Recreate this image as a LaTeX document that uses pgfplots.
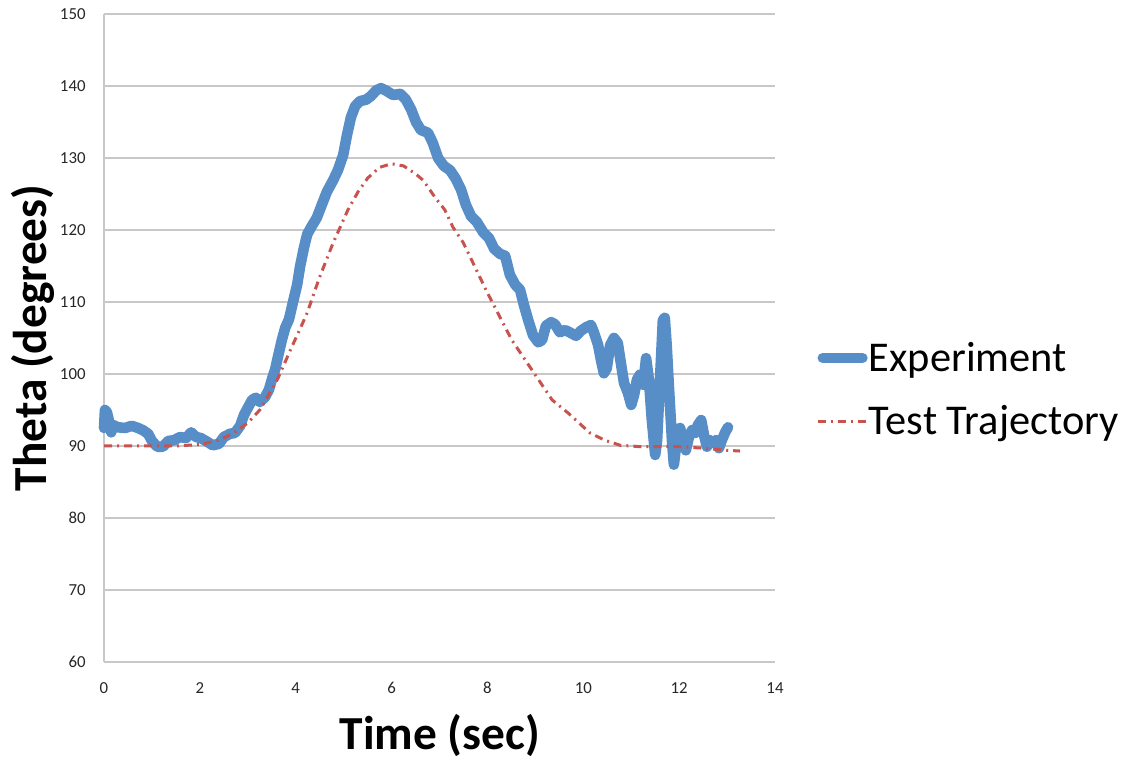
\documentclass[border=0pt]{standalone}
\usepackage{pgfplots}
\pgfplotsset{compat=1.18}
\usepackage{fontspec}
\setmainfont{Carlito}
\definecolor{expblue}{RGB}{88,142,200}
\definecolor{trajred}{RGB}{200,82,78}
\definecolor{gridgray}{RGB}{200,200,200}
\begin{document}
\begin{tikzpicture}
\begin{axis}[
  scale only axis,
  width=335.5pt, height=324pt,
  xmin=0, xmax=14, ymin=60, ymax=150,
  xtick={0,2,...,14}, ytick={60,70,...,150},
  axis lines*=left,
  axis line style={gridgray, line width=1pt},
  ymajorgrids, grid style={gridgray, line width=1pt},
  major tick length=0pt,
  clip=false,
  /pgf/number format/assume math mode=true,
  tick label style={font=\fontsize{8.4}{9.5}\selectfont, black!85},
  yticklabel style={xshift=-5.7pt},
  xticklabel style={yshift=-6.7pt},
  every axis y label/.style={at={(rel axis cs:-0.1058,0.5)}, rotate=90, anchor=center},
  every axis x label/.style={at={(rel axis cs:0.5007,-0.1127)}, anchor=center},
  ylabel={\fontsize{23.7}{28}\selectfont\bfseries Theta (degrees)},
  xlabel={\fontsize{23.7}{28}\selectfont\bfseries Time (sec)},
  legend style={at={(rel axis cs:1.055,0.4205)}, anchor=west, draw=none, fill=none,
    font=\fontsize{21.2}{25}\selectfont, row sep=13.5pt, column sep=-3pt, inner sep=0pt,
    nodes={inner sep=1pt}},
  legend cell align=left,
  legend image code/.code={\draw[#1] (0pt,0pt) -- (25pt,0pt);},
]
\addplot[expblue, line width=5.3pt, line cap=round, line join=round,
  legend image post style={shorten >=2.6pt, shorten <=2.6pt}] coordinates {
(0,92.5) (0.02,95.0) (0.06,94.7) (0.10,93.6) (0.15,91.9) (0.19,92.9) (0.29,92.6)
(0.44,92.5) (0.58,92.8) (0.71,92.5) (0.81,92.2) (0.92,91.7) (1.0,90.7) (1.11,89.9)
(1.23,89.9) (1.34,90.7) (1.46,90.8) (1.59,91.25) (1.71,91.1) (1.82,91.9) (1.92,91.25)
(2.02,91.1) (2.15,90.6) (2.27,90.1) (2.40,90.3) (2.50,91.25) (2.63,91.7) (2.73,91.8)
(2.84,92.8) (2.92,94.3) (3.0,95.3) (3.09,96.4) (3.17,96.7) (3.25,96.1) (3.36,96.8)
(3.44,97.8) (3.51,99.4) (3.57,100.6) (3.63,102.4) (3.71,104.7) (3.78,106.4) (3.86,107.6)
(3.94,109.9) (4.03,112.4) (4.09,114.9) (4.17,117.5) (4.24,119.4) (4.34,120.6) (4.44,121.7)
(4.55,123.6) (4.65,125.3) (4.78,126.9) (4.88,128.3) (4.99,130.4) (5.07,133.2) (5.15,135.6)
(5.24,137.2) (5.34,137.9) (5.47,138.1) (5.57,138.6) (5.68,139.4) (5.78,139.7) (5.90,139.3)
(6.03,138.75) (6.18,138.9) (6.30,138.1) (6.41,136.7) (6.51,135.0) (6.61,133.9) (6.76,133.5)
(6.86,132.1) (6.97,130.0) (7.09,128.9) (7.22,128.3) (7.34,127.1) (7.45,125.6) (7.55,123.5)
(7.66,121.9) (7.78,121.1) (7.91,119.7) (8.03,118.9) (8.14,117.4) (8.26,116.7) (8.37,116.4)
(8.47,113.75) (8.58,112.4) (8.68,111.7) (8.76,109.6) (8.85,107.5) (8.95,105.4) (9.06,104.4)
(9.14,104.7) (9.22,106.7) (9.33,107.2) (9.41,106.9) (9.51,105.8) (9.62,106.1) (9.74,105.7)
(9.85,105.3) (9.95,106.0) (10.06,106.5) (10.16,106.8) (10.22,105.8) (10.31,104.0) (10.37,101.9)
(10.43,100.1) (10.49,100.8) (10.56,104.0) (10.64,105.0) (10.72,104.3) (10.79,101.25) (10.85,98.75)
(10.93,97.4) (11.0,95.7) (11.06,97.1) (11.12,99.2) (11.18,99.9) (11.25,98.5) (11.31,102.2)
(11.37,99.2) (11.43,93.6) (11.50,88.75) (11.54,90.8) (11.58,96.4) (11.62,101.9) (11.66,107.5)
(11.70,107.8) (11.74,104.0) (11.79,97.8) (11.85,90.8) (11.89,87.4) (11.95,90.8) (12.02,92.5)
(12.08,90.8) (12.14,89.4) (12.21,91.4) (12.27,92.2) (12.33,91.8) (12.39,92.9) (12.46,93.6)
(12.52,91.5) (12.58,89.9) (12.64,90.8) (12.71,90.4) (12.77,90.8) (12.83,89.7) (12.89,90.8)
(12.96,91.9) (13.02,92.6)
};
\addlegendentry{Experiment}
\addplot[trajred, line width=1.5pt, dash pattern=on 4pt off 2.5pt on 1pt off 2.5pt] coordinates {
(0,90) (0.5,90) (1.0,90) (1.5,90) (2.0,90.2) (2.4,90.8) (2.7,91.8) (3.0,93.2) (3.25,95.0)
(3.46,97.4) (3.63,99.4) (3.9,103.5) (4.1,106.4) (4.24,108.5) (4.49,113.3) (4.78,118.2)
(5.09,122.8) (5.3,125.3) (5.5,127.2) (5.75,128.7) (6.0,129.2) (6.25,128.9) (6.5,127.8)
(6.66,126.9) (6.9,124.6) (7.11,122.8) (7.28,120.4) (7.49,118.3) (7.64,116.25) (7.82,113.75)
(7.99,111.4) (8.16,109.2) (8.51,104.7) (8.93,100.55) (9.35,96.4) (9.68,94.6) (10.14,91.8)
(10.45,90.8) (10.77,90.1) (11.2,89.9) (12.0,89.9) (12.5,89.7) (13.0,89.4) (13.27,89.3)
};
\addlegendentry{Test Trajectory}
\coordinate (bl) at (rel axis cs:-0.155,-0.1528);
\coordinate (tr) at (rel axis cs:1.5216,1.0216);
\end{axis}
\path (bl) rectangle (tr);
\end{tikzpicture}
\end{document}
